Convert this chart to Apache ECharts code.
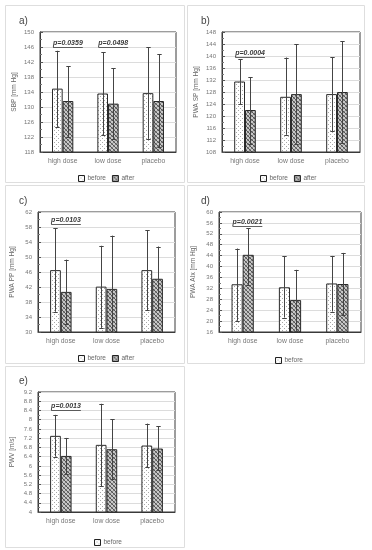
<!DOCTYPE html>
<html><head><meta charset="utf-8">
<script src="https://cdn.jsdelivr.net/npm/echarts@6/dist/echarts.min.js"></script>
<style>html,body{margin:0;padding:0;background:#fff}#c{width:372px;height:550px}</style>
</head><body><div id="c"></div>
<script>
// ---------- DATA ----------
const categories = ['high dose', 'low dose', 'placebo'];

// a) SBP
const sbpBefore = [134.9, 133.6, 133.7];
const sbpAfter = [131.6, 130.9, 131.6];
const sbpBeforeLow = [124.7, 122.5, 121.5];
const sbpBeforeHigh = [145.0, 144.6, 146.0];
const sbpAfterLow = [122.0, 121.5, 119.3];
const sbpAfterHigh = [140.9, 140.4, 144.1];
const sbpAxis = [118, 150, 4];
const sbpPText = ['p=0.0359', 'p=0.0498'];
const sbpPCat = [0, 1];
const sbpPY = [147.1, 147.1];

// b) PWA SP
const spBefore = [131.5, 126.4, 127.3];
const spAfter = [122.0, 127.3, 128.0];
const spBeforeLow = [123.9, 113.8, 114.9];
const spBeforeHigh = [139.0, 139.5, 139.6];
const spAfterLow = [110.6, 110.8, 111.0];
const spAfterHigh = [132.9, 144.0, 144.9];
const spAxis = [108, 148, 4];
const spPText = ['p=0.0004'];
const spPCat = [0];
const spPY = [141];

// c) PWA PP
const ppBefore = [46.5, 42.1, 46.5];
const ppAfter = [40.7, 41.5, 44.2];
const ppBeforeLow = [35.4, 31.1, 35.8];
const ppBeforeHigh = [57.7, 53.0, 57.1];
const ppAfterLow = [32.1, 30.0, 35.8];
const ppAfterHigh = [49.3, 55.7, 52.8];
const ppAxis = [30, 62, 4];
const ppPText = ['p=0.0103'];
const ppPCat = [0];
const ppPY = [59.9];

// d) PWA AIx
const aixBefore = [33.5, 32.4, 33.8];
const aixAfter = [44.3, 27.7, 33.6];
const aixBeforeLow = [20.1, 21.3, 23.5];
const aixBeforeHigh = [46.6, 43.8, 43.9];
const aixAfterLow = [33.2, 16.4, 22.2];
const aixAfterHigh = [54.1, 38.8, 45.0];
const aixAxis = [16, 60, 4];
const aixPText = ['p=0.0021'];
const aixPCat = [0];
const aixPY = [56.3];

// e) PWV
const pwvBefore = [7.30, 6.91, 6.88];
const pwvAfter = [6.43, 6.72, 6.75];
const pwvBeforeLow = [6.40, 5.12, 5.93];
const pwvBeforeHigh = [8.21, 8.69, 7.83];
const pwvAfterLow = [5.64, 5.41, 5.82];
const pwvAfterHigh = [7.21, 8.01, 7.72];
const pwvAxis = [4, 9.2, 0.4];
const pwvPText = ['p=0.0013'];
const pwvPCat = [0];
const pwvPY = [8.59];

const panelLetters = ['a)', 'b)', 'c)', 'd)', 'e)'];
const yNames = ['SBP [mm Hg]', 'PWA SP [mm Hg]', 'PWA PP [mm Hg]', 'PWA AIx [mm Hg]', 'PWV [m/s]'];
const legendItems = [['before', 'after'], ['before', 'after'], ['before', 'after'], ['before'], ['before']];

// ---------- STYLE / LAYOUT ----------
const FONT = 'Liberation Sans';
function makePattern(kind) {
  const c = document.createElement('canvas');
  c.width = 4; c.height = 4;
  const g = c.getContext('2d');
  if (kind === 'before') {
    g.fillStyle = '#ffffff'; g.fillRect(0, 0, 4, 4);
    g.fillStyle = '#a8a8a8'; g.fillRect(0, 0, 1, 1); g.fillRect(2, 2, 1, 1);
  } else {
    g.fillStyle = '#c8c8c8'; g.fillRect(0, 0, 4, 4);
    g.fillStyle = '#555555';
    for (let i = 0; i < 4; i++) g.fillRect(i, i, 1, 1);
    g.fillStyle = '#858585';
    for (let i = 0; i < 4; i++) g.fillRect(3 - i, i, 1, 1);
  }
  return c;
}
const beforeFill = { image: makePattern('before'), repeat: 'repeat' };
const afterFill = { image: makePattern('after'), repeat: 'repeat' };

const grids = [
  { left: 40, top: 32, width: 136, height: 120 },
  { left: 222, top: 32, width: 138, height: 120 },
  { left: 38, top: 212, width: 137, height: 120 },
  { left: 219, top: 212, width: 142, height: 120 },
  { left: 38, top: 392, width: 137, height: 120 }
];
const frames = [
  [5, 5, 179, 177], [187, 5, 177, 177],
  [5, 185, 179, 178], [187, 185, 177, 178],
  [5, 366, 179, 181]
];
const letterPos = [[14, 11], [196, 11], [14, 191], [196, 191], [14, 371]];
const legendPos = [[73, 170], [255, 170], [73, 350], [270, 352], [89, 534]];

const panels = [
  { b: sbpBefore, a: sbpAfter, bl: sbpBeforeLow, bh: sbpBeforeHigh, al: sbpAfterLow, ah: sbpAfterHigh, ax: sbpAxis, pt: sbpPText, pc: sbpPCat, py: sbpPY },
  { b: spBefore, a: spAfter, bl: spBeforeLow, bh: spBeforeHigh, al: spAfterLow, ah: spAfterHigh, ax: spAxis, pt: spPText, pc: spPCat, py: spPY },
  { b: ppBefore, a: ppAfter, bl: ppBeforeLow, bh: ppBeforeHigh, al: ppAfterLow, ah: ppAfterHigh, ax: ppAxis, pt: ppPText, pc: ppPCat, py: ppPY },
  { b: aixBefore, a: aixAfter, bl: aixBeforeLow, bh: aixBeforeHigh, al: aixAfterLow, ah: aixAfterHigh, ax: aixAxis, pt: aixPText, pc: aixPCat, py: aixPY },
  { b: pwvBefore, a: pwvAfter, bl: pwvBeforeLow, bh: pwvBeforeHigh, al: pwvAfterLow, ah: pwvAfterHigh, ax: pwvAxis, pt: pwvPText, pc: pwvPCat, py: pwvPY }
];

const BAR_FRAC = 0.235;
const measureCtx = document.createElement('canvas').getContext('2d');
const P_FONT = 'italic bold 7px "' + FONT + '"';

function errRender(side) {
  return function (params, api) {
    const x = api.value(0), lo = api.value(1), hi = api.value(2);
    const band = api.size([1, 0])[0];
    const pLo = api.coord([x, lo]);
    const pHi = api.coord([x, hi]);
    const cx = Math.round(pLo[0] + side * band * BAR_FRAC / 2) + 0.5;
    const cap = 2.2;
    const st = { stroke: '#444', lineWidth: 1 };
    return {
      type: 'group',
      children: [
        { type: 'line', shape: { x1: cx, y1: pLo[1], x2: cx, y2: pHi[1] }, style: st },
        { type: 'line', shape: { x1: cx - cap, y1: Math.round(pLo[1]) + 0.5, x2: cx + cap, y2: Math.round(pLo[1]) + 0.5 }, style: st },
        { type: 'line', shape: { x1: cx - cap, y1: Math.round(pHi[1]) + 0.5, x2: cx + cap, y2: Math.round(pHi[1]) + 0.5 }, style: st }
      ]
    };
  };
}
function pRender(texts) {
  return function (params, api) {
    const cat = api.value(0), yv = api.value(1);
    const text = texts[params.dataIndex];
    const band = api.size([1, 0])[0];
    const p = api.coord([cat, yv]);
    const x = p[0] - band * BAR_FRAC + 1;
    measureCtx.font = P_FONT;
    const w = measureCtx.measureText(text).width;
    const uy = Math.round(p[1] + 4) + 0.5;
    return {
      type: 'group',
      children: [
        { type: 'text', style: { text: text, x: x, y: p[1], font: P_FONT, fill: '#3a3a3a', align: 'left', verticalAlign: 'middle' } },
        { type: 'line', shape: { x1: x, y1: uy, x2: x + w, y2: uy }, style: { stroke: '#3a3a3a', lineWidth: 0.8 } }
      ]
    };
  };
}

const option = {
  animation: false,
  backgroundColor: '#ffffff',
  textStyle: { fontFamily: FONT },
  title: panelLetters.map((t, i) => ({
    text: t, left: letterPos[i][0], top: letterPos[i][1],
    textStyle: { fontSize: 10, fontWeight: 'normal', color: '#444', fontFamily: FONT }
  })),
  legend: legendItems.map((items, i) => ({
    data: items, left: legendPos[i][0], top: legendPos[i][1],
    itemWidth: 6, itemHeight: 6, itemGap: 6, icon: 'rect',
    selectedMode: false,
    itemStyle: { borderColor: '#222', borderWidth: 1 },
    textStyle: { fontSize: 6.5, color: '#666', fontFamily: FONT, padding: [0, 0, 0, -2] }
  })),
  graphic: frames.map(f => ({
    type: 'rect', shape: { x: f[0] + 0.5, y: f[1] + 0.5, width: f[2], height: f[3] },
    style: { fill: 'none', stroke: '#dedede', lineWidth: 1 }, silent: true, z: -10
  })),
  grid: grids.map(g => Object.assign({ show: true, borderColor: '#3a3a3a', borderWidth: 1, backgroundColor: 'transparent' }, g)),
  xAxis: grids.map((g, i) => ({
    type: 'category', gridIndex: i, data: categories,
    axisLine: { lineStyle: { color: '#3a3a3a' } },
    axisTick: { show: false },
    axisLabel: { fontSize: 6.8, color: '#777', margin: 6, fontFamily: FONT }
  })),
  yAxis: panels.map((p, i) => ({
    type: 'value', gridIndex: i, min: p.ax[0], max: p.ax[1], interval: p.ax[2],
    name: yNames[i], nameLocation: 'middle', nameRotate: 90, nameGap: 22,
    nameTextStyle: { fontSize: 6.5, color: '#666', fontFamily: FONT },
    axisLine: { show: true, lineStyle: { color: '#3a3a3a' } },
    axisTick: { show: true, inside: true, length: 3, lineStyle: { color: '#555' } },
    minorTick: { show: true, splitNumber: 2, length: 2, lineStyle: { color: '#777' } },
    splitLine: { show: true, lineStyle: { color: '#dcdcdc', width: 1 } },
    axisLabel: { fontSize: 6, color: '#777', margin: 6, fontFamily: FONT,
      formatter: v => String(+v.toFixed(1)) }
  })),
  series: []
};

panels.forEach((p, i) => {
  option.series.push({
    name: 'before', type: 'bar', xAxisIndex: i, yAxisIndex: i, data: p.b,
    barWidth: (BAR_FRAC * 100) + '%', barGap: '0%',
    itemStyle: { color: beforeFill, borderColor: '#2a2a2a', borderWidth: 1 }
  });
  option.series.push({
    name: 'after', type: 'bar', xAxisIndex: i, yAxisIndex: i, data: p.a,
    barWidth: (BAR_FRAC * 100) + '%', barGap: '0%',
    itemStyle: { color: afterFill, borderColor: '#2a2a2a', borderWidth: 1 }
  });
  option.series.push({
    type: 'custom', xAxisIndex: i, yAxisIndex: i, z: 5,
    renderItem: errRender(-1), encode: { x: 0, y: [1, 2] },
    data: categories.map((c, k) => [k, p.bl[k], p.bh[k]])
  });
  option.series.push({
    type: 'custom', xAxisIndex: i, yAxisIndex: i, z: 5,
    renderItem: errRender(1), encode: { x: 0, y: [1, 2] },
    data: categories.map((c, k) => [k, p.al[k], p.ah[k]])
  });
  option.series.push({
    type: 'custom', xAxisIndex: i, yAxisIndex: i, z: 6,
    renderItem: pRender(p.pt), encode: { x: 0, y: 1 },
    data: p.pt.map((t, k) => [p.pc[k], p.py[k]])
  });
});

const chart = echarts.init(document.getElementById('c'), null, { renderer: 'canvas' });
chart.setOption(option);
</script>
</body></html>
